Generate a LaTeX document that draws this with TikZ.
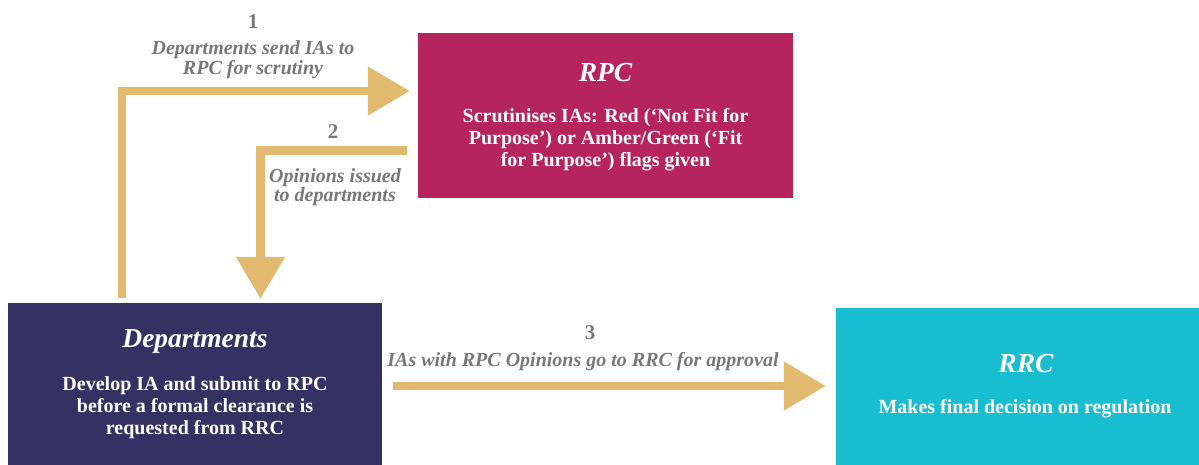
\documentclass[tikz,border=0pt]{standalone}
\usepackage{fontspec}
\setmainfont{Liberation Serif}
\usetikzlibrary{positioning,calc,arrows.meta}
\definecolor{rpcred}{HTML}{B5245C}
\definecolor{deptblue}{HTML}{343263}
\definecolor{rrccyan}{HTML}{18BED0}
\definecolor{sand}{HTML}{E1B96F}
\definecolor{labelgray}{HTML}{787878}

\begin{document}
\begin{tikzpicture}[x=1pt,y=-1pt,
  box/.style={minimum width=375pt,inner sep=0pt},
  title/.style={text=white,font=\fontsize{27.5}{30}\selectfont\bfseries\itshape},
  body/.style={text=white,align=center,font=\fontsize{20}{22}\selectfont\bfseries},
  num/.style={text=labelgray,font=\fontsize{21}{24}\selectfont\bfseries},
  note/.style={text=labelgray,align=center,font=\fontsize{20}{20}\selectfont\bfseries\itshape},
  flow/.style={draw=sand,line width=8.5pt,-{Triangle[length=42pt,width=47pt]}}]
\useasboundingbox (0,0) rectangle (1199,465);
%\draw[help lines] (0,0) grid[step=50] (1199,465);
\node[box,fill=rpcred,minimum height=165pt](rpc) at (605.5,115.5){};
\node[box,fill=deptblue,minimum height=162pt,minimum width=374pt](dep) at (195,384){};
\node[box,fill=rrccyan,minimum height=157pt](rrc) at (1023.5,386.5){};
\node[title](rpct) at ($(rpc.north)+(0,40)$){RPC};
\node[body](rpcb) at ($(rpc.north)+(0,107)$){Scrutinises IAs: Red (`Not Fit for\\Purpose') or Amber/Green (`Fit\\for Purpose') flags given};
\node[title](dept) at ($(dep.north)+(0,39)$){Departments};
\node[body](depb) at ($(dep.north)+(0,105)$){Develop IA and submit to RPC\\before a formal clearance is\\requested from RRC};
\node[title](rrct) at ($(rrc.north)+(2.5,56)$){RRC};
\node[body](rrcb) at ($(rrc.north)+(1.5,101)$){Makes final decision on regulation};
% arrows
\coordinate (s1) at ($(dep.north)+(-73,-5)$);
\coordinate (e1) at ($(rpc.west)+(-8,-24.5)$);
\draw[flow] (s1) |- (e1);
\coordinate (s2) at ($(rpc.west)+(-11,35)$);
\coordinate (e2) at ($(dep.north)+(65.5,-4)$);
\draw[flow] (s2) -| (e2);
\coordinate (s3) at ($(dep.east)+(11,2)$);
\coordinate (e3) at ($(rrc.west)+(-10,-0.5)$);
\draw[flow] (s3) -- (e3);
% labels
\foreach \k/\x/\y in {1/253/22,2/333/132,3/590/333}
\node[num](n\k) at (\x,\y){\k};
\node[note](l1) at (253,60){Departments send IAs to\\RPC for scrutiny};
\node[note,font=\fontsize{20}{18}\selectfont\bfseries\itshape](l2) at (335,187){Opinions issued\\to departments};
\node[note](l3) at (583,362){IAs with RPC Opinions go to RRC for approval};
\end{tikzpicture}
\end{document}
